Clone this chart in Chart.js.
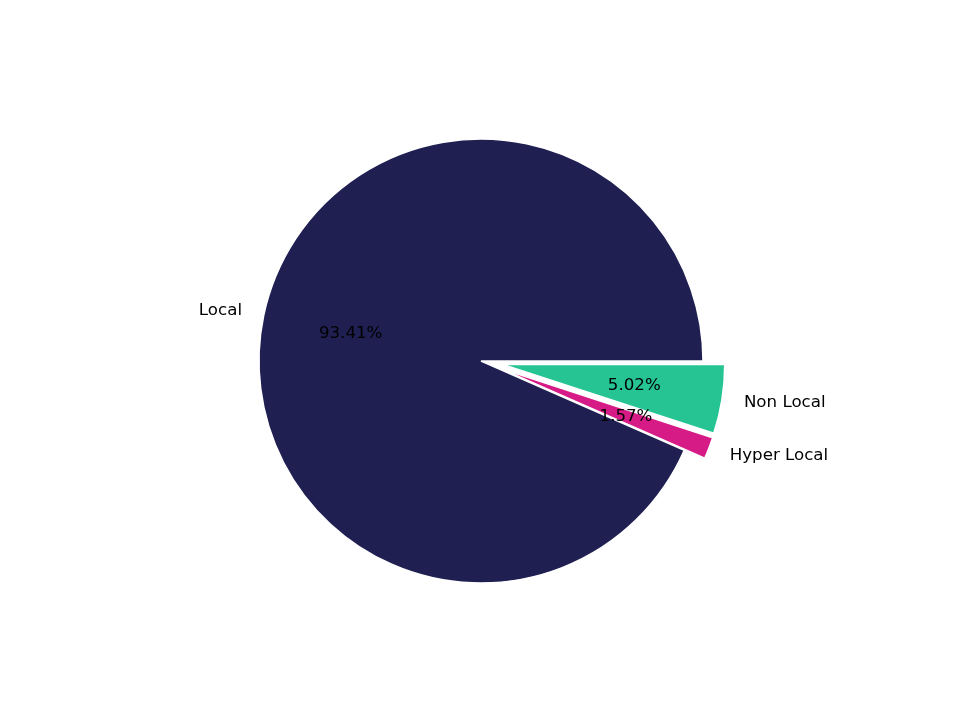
<!DOCTYPE html>
<html>
<head>
<meta charset="utf-8">
<script src="https://cdn.jsdelivr.net/npm/chart.js@4"></script>
<style>
  html, body { margin: 0; padding: 0; background: #fff; }
  #wrap { width: 960px; height: 720px; }
</style>
</head>
<body>
<div id="wrap"><canvas id="myChart"></canvas></div>
<script>
// clockwise order starting at 3 o'clock
const labels = ["Non Local", "Hyper Local", "Local"];
const shares = [5.02, 1.57, 93.41];
const colors = ["#25c492", "#d61a86", "#1f1f52"];
const explode = [22, 22, 0]; // pixels the slice moves out

const PIE_R = 222;

// Chart.js moves an arc by offset/4 but also grows and narrows it; undo that
const explodeFix = {
  id: "explodeFix",
  afterDatasetUpdate(chart, args) {
    args.meta.data.forEach((arc, i) => {
      if (!explode[i]) return;
      const fix = 1 - Math.sin(Math.min(Math.PI, arc.circumference || 0));
      const grow = explode[i] * fix;
      arc.outerRadius = PIE_R - grow;
      const d = grow / (Math.PI * PIE_R) / 2;
      arc.startAngle -= d;
      arc.endAngle += d;
    });
  },
};

const pieLabels = {
  id: "pieLabels",
  afterDatasetsDraw(chart) {
    const c = chart.ctx;
    const meta = chart.getDatasetMeta(0);
    c.save();
    c.font = "16.67px 'DejaVu Sans'";
    c.fillStyle = "#000";
    c.textBaseline = "middle";
    meta.data.forEach((arc, i) => {
      const mid = (arc.startAngle + arc.endAngle) / 2;
      const cx = arc.x + explode[i] * Math.cos(mid);
      const cy = arc.y + explode[i] * Math.sin(mid);
      const r = PIE_R;
      c.textAlign = Math.cos(mid) < 0 ? "right" : "left";
      c.fillText(labels[i], cx + 1.1 * r * Math.cos(mid), cy + 1.1 * r * Math.sin(mid));
      c.textAlign = "center";
      c.fillText(shares[i].toFixed(2) + "%", cx + 0.6 * r * Math.cos(mid), cy + 0.6 * r * Math.sin(mid));
    });
    c.restore();
  },
};

const data = {
  labels: labels,
  datasets: [
    {
      data: shares,
      backgroundColor: colors,
      borderColor: "#ffffff",
      borderWidth: 1.5,
      offset: explode.map((e) => e * 4),
      hoverOffset: 0,
    },
  ],
};

const config = {
  type: "pie",
  data: data,
  options: {
    responsive: true,
    maintainAspectRatio: false,
    animation: false,
    rotation: 90,
    radius: PIE_R,
    layout: { padding: { left: 2, top: 2 } },
    plugins: {
      legend: { display: false },
      tooltip: { enabled: false },
    },
    events: [],
  },
  plugins: [explodeFix, pieLabels],
};

new Chart(document.getElementById("myChart"), config);
</script>
</body>
</html>
